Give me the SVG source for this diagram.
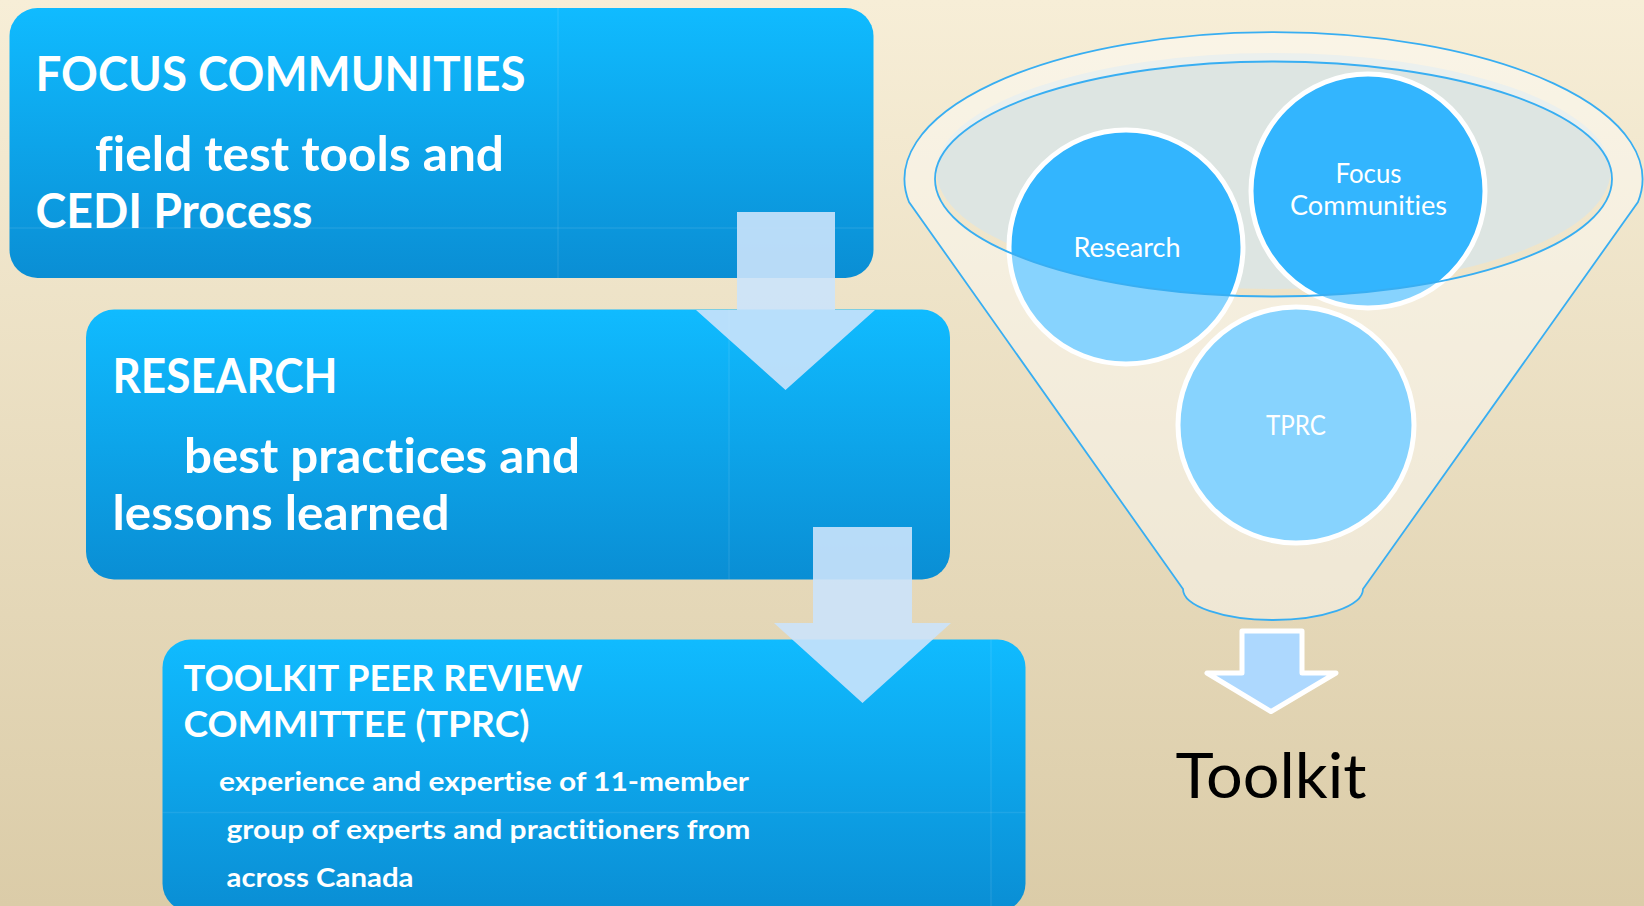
<svg xmlns="http://www.w3.org/2000/svg" width="1644" height="906" viewBox="0 0 1644 906">
  <defs>
    <linearGradient id="bg" x1="0" y1="0" x2="0" y2="1">
      <stop offset="0" stop-color="#F7EED7"/>
      <stop offset="1" stop-color="#DBCCA8"/>
    </linearGradient>
    <linearGradient id="boxg" x1="0" y1="0" x2="0" y2="1">
      <stop offset="0" stop-color="#10BBFF"/>
      <stop offset="1" stop-color="#0A8ED4"/>
    </linearGradient>
  </defs>
  <style>
    text { font-variant-ligatures: none; font-feature-settings: "liga" 0, "clig" 0, "dlig" 0; }
    .box { fill: url(#boxg); }
    .seam { stroke: #FFFFFF; stroke-opacity: 0.08; stroke-width: 1.5; fill: none; }
    .h1 { font-family: Lato, "Open Sans", "Liberation Sans", sans-serif; font-weight: 700; fill: #FFFFFF; }
    .lbl { font-family: Lato, "Open Sans", "Liberation Sans", sans-serif; font-weight: 400; fill: #FFFFFF; font-size: 26px; }
    .flow { fill: rgb(203,227,251); fill-opacity: 0.9; }
    .circ { fill: #33B5FE; stroke: #FFFFFF; stroke-width: 5; }
    .fline { fill: none; stroke: #38AEF2; stroke-width: 1.8; }
  </style>

  <rect width="1644" height="906" fill="url(#bg)"/>

  <g id="node-focus">
    <rect class="box" x="9.5" y="8" width="864" height="270" rx="28"/>
    <line class="seam" x1="9.5" y1="228" x2="873.5" y2="228"/>
    <line class="seam" x1="558" y1="8" x2="558" y2="278"/>
    <text class="h1" x="35.5" y="90.5" font-size="47" textLength="490" lengthAdjust="spacingAndGlyphs">FOCUS COMMUNITIES</text>
    <text class="h1" x="95" y="170.5" font-size="47" textLength="409" lengthAdjust="spacingAndGlyphs">field test tools and</text>
    <text class="h1" x="35.5" y="227.5" font-size="47" textLength="277" lengthAdjust="spacingAndGlyphs">CEDI Process</text>
  </g>

  <g id="node-research">
    <rect class="box" x="86" y="309.5" width="864" height="270" rx="28"/>
    <line class="seam" x1="729" y1="309.5" x2="729" y2="579.5"/>
    <text class="h1" x="112.5" y="392.5" font-size="47" textLength="225" lengthAdjust="spacingAndGlyphs">RESEARCH</text>
    <text class="h1" x="184" y="472.5" font-size="47" textLength="396" lengthAdjust="spacingAndGlyphs">best practices and</text>
    <text class="h1" x="112.5" y="530" font-size="47" textLength="337" lengthAdjust="spacingAndGlyphs">lessons learned</text>
  </g>

  <g id="node-tprc">
    <rect class="box" x="162.5" y="639.5" width="863" height="272" rx="28"/>
    <line class="seam" x1="162.5" y1="812.5" x2="1025.5" y2="812.5"/>
    <line class="seam" x1="991" y1="639.5" x2="991" y2="906"/>
    <text class="h1" x="183.5" y="690.5" font-size="36" textLength="399" lengthAdjust="spacingAndGlyphs">TOOLKIT PEER REVIEW</text>
    <text class="h1" x="183.5" y="736.5" font-size="36" textLength="346" lengthAdjust="spacingAndGlyphs">COMMITTEE (TPRC)</text>
    <text class="h1" x="219" y="790.5" font-size="26" textLength="530" lengthAdjust="spacingAndGlyphs">experience and expertise of 11-member</text>
    <text class="h1" x="226.5" y="838.5" font-size="26" textLength="524" lengthAdjust="spacingAndGlyphs">group of experts and practitioners from</text>
    <text class="h1" x="226.5" y="886.5" font-size="26" textLength="187" lengthAdjust="spacingAndGlyphs">across Canada</text>
  </g>

  <g id="connectors">
    <polygon class="flow" points="737,212 835,212 835,310 875,310 785.5,390 696,310 737,310"/>
    <polygon class="flow" points="813,527 912,527 912,623 951,623 862.5,703 774,623 813,623"/>
    <polygon points="1242,631 1302,631 1302,673 1336,673 1271,711.5 1207,673 1242,673" fill="#ADD8FE" stroke="#FFFFFF" stroke-width="5" stroke-linejoin="round"/>
  </g>

  <g id="funnel">
    <ellipse cx="1273.5" cy="171" rx="337" ry="118" fill="#DDE5E2"/>
    <g id="circle-research">
      <circle class="circ" cx="1126" cy="247" r="117"/>
    </g>
    <g id="circle-focus">
      <circle class="circ" cx="1368" cy="191" r="117"/>
    </g>
    <g id="circle-tprc">
      <circle class="circ" cx="1296" cy="425" r="118"/>
    </g>
    <path d="M 909 202 A 369 147 0 1 1 1638 202 L 1363 589 A 90 31 0 0 1 1183 589 Z M 935 179 A 338.5 117.5 0 1 0 1612 179 A 338.5 117.5 0 1 0 935 179 Z" fill="#FFFFFF" fill-opacity="0.41" fill-rule="evenodd"/>
    <path class="fline" d="M 909 202 A 369 147 0 1 1 1638 202 L 1363 589 A 90 31 0 0 1 1183 589 Z"/>
    <ellipse class="fline" cx="1273.5" cy="179" rx="338.5" ry="117.5"/>
    <text class="lbl" x="1073.5" y="256.5" textLength="107" lengthAdjust="spacingAndGlyphs">Research</text>
    <text class="lbl" x="1335.5" y="183" textLength="66" lengthAdjust="spacingAndGlyphs">Focus</text>
    <text class="lbl" x="1290" y="215" textLength="157" lengthAdjust="spacingAndGlyphs">Communities</text>
    <text class="lbl" x="1266" y="435" textLength="60" lengthAdjust="spacingAndGlyphs">TPRC</text>
  </g>

  <g id="node-toolkit">
    <text x="1175.5" y="798" font-family="Lato, 'Open Sans', 'Liberation Sans', sans-serif" font-size="62" fill="#000000" textLength="191" lengthAdjust="spacingAndGlyphs">Toolkit</text>
  </g>
</svg>
